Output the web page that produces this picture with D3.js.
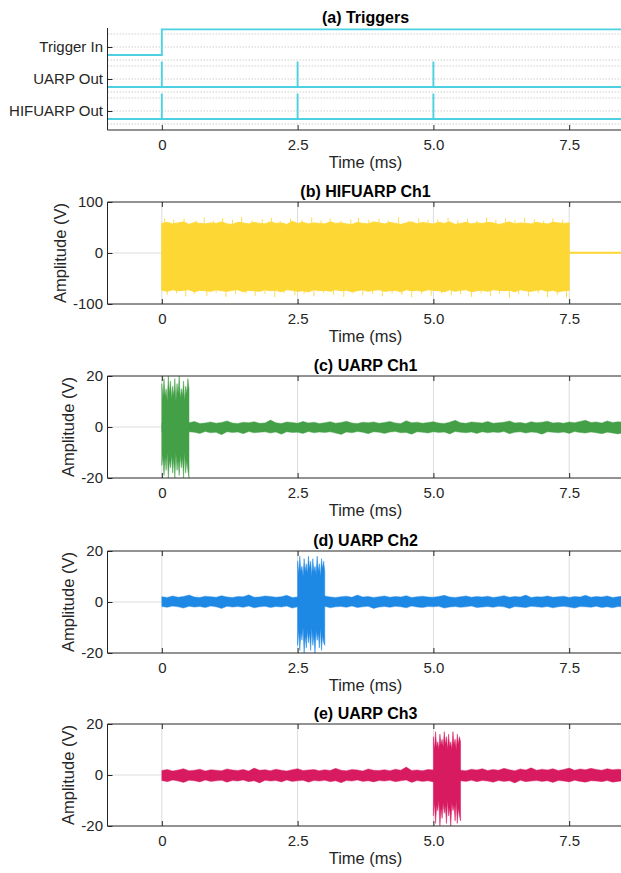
<!DOCTYPE html>
<html lang="en">
<head>
<meta charset="UTF-8">
<title>Triggers and channel outputs</title>
<script src="https://cdn.jsdelivr.net/npm/d3@7"></script>
<style>
  body { margin: 0; background: #fff; }
  svg { display: block; font-family: "Liberation Sans", Arial, Helvetica, sans-serif; }
</style>
</head>
<body>
<div id="chart"></div>
<script>
// ---- data ----
const xTicks = [0, 2.5, 5.0, 7.5];
const xTickLabels = ["0", "2.5", "5.0", "7.5"];
const timeDomain = [-1, 8.5];

// (a) triggers, logic levels 0/1
const triggerNames = ["HIFUARP Out", "UARP Out", "Trigger In"];
const triggerInSteps = [[-1, 0], [0, 0], [0, 1], [8.5, 1]];
const uarpOutPulses = [0, 2.5, 5.0];
const hifuarpOutPulses = [0, 2.5, 5.0];

// (b) HIFUARP Ch1: envelope every 0.1 ms from 0 to 7.5 ms, plus single peaks
const hifuCoreUp = [
  58,60,57,59,61,56,60,58,57,59, 58,61,57,56,60,59,57,60,58,57,
  61,58,59,56,62,58,60,57,59,58, 57,61,58,59,57,56,60,58,57,61,
  59,57,60,58,56,59,61,57,60,58, 57,60,58,61,56,58,60,57,59,58,
  60,59,56,58,61,57,59,58,57,60, 58,57,60,59,58,59];
const hifuCoreLo = [
  -73,-75,-72,-74,-73,-72,-76,-73,-74,-75, -72,-74,-75,-73,-72,-76,-73,-74,-75,-72,
  -74,-73,-76,-72,-73,-75,-74,-76,-72,-74, -73,-75,-72,-74,-73,-76,-74,-72,-75,-73,
  -72,-75,-74,-73,-76,-72,-74,-73,-75,-72, -73,-74,-76,-72,-75,-73,-72,-76,-74,-73,
  -75,-72,-73,-74,-73,-76,-72,-74,-75,-73, -72,-75,-73,-76,-74,-73];
const hifuPeaksUp = [
  [0.05,68],[0.22,65],[0.41,67],[0.63,64],[0.78,70],[0.95,63],[1.12,68],[1.3,65],[1.47,71],
  [1.66,64],[1.85,66],[2.02,69],[2.18,63],[2.37,67],[2.58,65],[2.76,70],[2.93,64],[3.1,68],
  [3.3,63],[3.48,66],[3.62,69],[3.81,65],[4.0,67],[4.17,64],[4.36,70],[4.55,63],[4.73,68],
  [4.9,65],[5.08,66],[5.27,69],[5.45,64],[5.63,67],[5.8,63],[5.98,70],[6.15,65],[6.33,68],
  [6.5,64],[6.68,69],[6.86,66],[7.03,63],[7.2,68],[7.38,65]];
const hifuPeaksDown = [
  [0.1,-82],[0.27,-79],[0.44,-85],[0.6,-80],[0.83,-84],[1.0,-78],[1.18,-86],[1.36,-81],
  [1.55,-79],[1.72,-84],[1.9,-80],[2.08,-87],[2.25,-79],[2.45,-83],[2.62,-80],[2.8,-85],
  [2.98,-78],[3.16,-82],[3.35,-86],[3.52,-79],[3.7,-83],[3.88,-80],[4.06,-85],[4.24,-79],
  [4.42,-82],[4.6,-87],[4.78,-80],[4.96,-84],[5.15,-79],[5.33,-83],[5.5,-81],[5.7,-86],
  [5.88,-79],[6.05,-84],[6.22,-80],[6.4,-88],[6.57,-81],[6.75,-85],[6.93,-79],[7.1,-87],
  [7.28,-82],[7.45,-88]];
const hifuTailT = [7.5, 8.5];
const hifuTailV = [0.6, 0.6];

// (c)-(e) UARP channels: noise envelope every 0.1 ms from 0 to 8.5 ms
const ch1NoiseUp = [
  1.6,1.9,1.4,1.8,1.5,1.7,2.2,1.4,1.6,2.0, 1.5,1.8,2.4,1.6,1.4,1.9,1.7,2.1,1.5,1.6,
  2.7,1.7,1.4,2.0,1.8,1.5,2.2,1.6,1.9,1.4, 1.7,2.1,1.5,1.8,2.3,1.6,1.4,1.9,1.7,2.0,
  1.5,1.8,2.2,1.6,1.4,2.5,1.7,1.9,1.5,1.8, 2.1,1.6,1.4,1.9,2.6,1.7,1.5,2.0,1.8,1.6,
  2.2,1.5,1.7,1.9,2.4,1.6,1.8,1.4,2.1,1.7, 1.9,2.3,1.6,1.8,1.5,2.0,1.7,2.2,2.6,1.8,
  2.0,1.6,2.4,1.8,2.1,1.9];
const ch1NoiseLo = [
  -2.0,-2.4,-1.8,-2.2,-2.7,-1.9,-2.1,-2.5,-1.8,-2.3, -2.1,-3.0,-1.9,-2.2,-2.0,-2.6,-1.8,-2.3,-2.1,-1.9,
  -2.4,-2.0,-2.8,-1.9,-2.2,-2.1,-2.5,-1.8,-2.3,-2.0, -2.2,-1.9,-2.4,-2.9,-2.0,-2.3,-1.8,-2.1,-2.6,-1.9,
  -2.1,-2.5,-2.0,-1.8,-2.3,-2.2,-2.8,-1.9,-2.1,-2.4, -1.9,-2.2,-2.0,-2.7,-1.8,-2.1,-2.3,-2.0,-2.5,-1.9,
  -2.3,-2.0,-2.2,-1.8,-2.6,-2.1,-1.9,-2.4,-2.0,-2.2, -2.8,-1.9,-2.1,-2.3,-2.0,-2.5,-1.8,-2.2,-2.4,-2.0,
  -2.3,-2.6,-2.1,-2.4,-2.7,-2.2];
const ch2NoiseUp = [
  2.1,1.8,2.4,1.9,2.2,2.7,2.0,1.8,2.3,2.1, 1.9,2.5,2.0,1.8,2.2,2.1,2.8,1.9,2.0,2.4,
  2.2,1.9,2.1,2.6,1.8,2.0,2.3,2.1,1.9,2.2, 2.4,2.0,1.8,2.1,2.3,1.9,2.7,2.0,2.2,1.8,
  2.1,2.4,1.9,2.2,2.0,2.5,1.8,2.1,2.3,2.0, 1.9,2.2,2.6,2.0,1.8,2.1,2.4,1.9,2.2,2.0,
  2.3,1.8,2.1,2.5,1.9,2.2,2.0,2.7,1.8,2.1, 2.0,2.4,1.9,2.1,2.3,1.8,2.2,2.0,2.6,1.9,
  2.2,2.0,2.4,1.8,2.1,2.3];
const ch2NoiseLo = [
  -1.8,-2.1,-1.6,-1.9,-2.4,-1.7,-2.0,-1.8,-2.2,-1.6, -1.9,-2.5,-1.7,-2.0,-1.8,-2.1,-1.6,-2.3,-1.9,-1.7,
  -2.2,-1.8,-2.0,-1.6,-2.4,-1.9,-1.7,-2.1,-1.8,-2.0, -1.7,-2.3,-1.9,-1.8,-2.1,-1.6,-2.2,-1.9,-1.7,-2.5,
  -2.0,-1.8,-2.1,-1.7,-1.9,-2.3,-1.6,-2.0,-2.2,-1.8, -1.9,-1.7,-2.4,-2.0,-1.8,-2.1,-1.9,-1.6,-2.2,-2.0,
  -1.8,-2.1,-1.7,-1.9,-2.5,-1.8,-2.0,-2.2,-1.7,-1.9, -2.1,-1.8,-2.3,-1.9,-1.7,-2.0,-2.4,-1.8,-1.9,-2.1,
  -1.7,-2.2,-1.9,-2.3,-1.8,-2.0];
const ch3NoiseUp = [
  1.8,2.2,1.6,2.0,2.5,1.7,1.9,2.3,1.6,2.1, 1.9,1.7,2.4,2.0,1.8,2.2,1.6,2.7,1.9,2.1,
  1.7,2.3,1.9,1.6,2.1,2.5,1.8,2.0,2.2,1.7, 2.1,1.8,2.6,1.9,1.7,2.2,2.0,1.6,2.4,1.9,
  1.8,2.1,1.7,2.3,1.9,3.1,1.8,2.0,1.7,2.2, 2.0,2.4,1.8,2.1,2.7,1.9,1.7,2.3,2.0,2.5,
  1.8,2.2,1.9,2.6,2.1,1.7,2.4,2.0,2.8,1.9, 2.3,2.0,2.5,1.8,2.2,2.7,1.9,2.4,2.1,2.6,
  2.2,1.9,2.5,2.1,2.3,2.0];
const ch3NoiseLo = [
  -2.2,-2.6,-2.0,-2.4,-2.9,-2.1,-2.3,-2.7,-2.0,-2.5, -2.3,-2.1,-2.8,-2.2,-2.4,-2.0,-2.6,-2.3,-3.1,-2.1,
  -2.4,-2.2,-2.7,-2.0,-2.5,-2.3,-2.1,-2.8,-2.2,-2.4, -2.1,-2.6,-2.3,-3.0,-2.2,-2.4,-2.0,-2.5,-2.3,-2.7,
  -2.2,-2.4,-2.1,-2.6,-2.3,-2.0,-2.9,-2.2,-2.5,-2.3, -2.7,-2.1,-2.4,-2.2,-3.0,-2.3,-2.5,-2.1,-2.6,-2.2,
  -2.4,-2.8,-2.2,-2.5,-2.3,-3.1,-2.1,-2.6,-2.4,-2.2, -2.5,-2.3,-2.9,-2.2,-2.4,-2.7,-2.1,-2.5,-2.8,-2.3,
  -2.4,-2.6,-2.2,-2.8,-2.5,-2.3];

// 0.5 ms bursts, envelope every 0.02 ms
const burstStarts = [0, 2.5, 5.0];
const ch1BurstUp = [17,11,19,12,15,10,20,13,18,11,16,12,19,10,17,13,20,11,15,12,18,10,16,13,19,15];
const ch1BurstLo = [-15,-11,-19,-12,-17,-10,-20,-13,-16,-11,-18,-12,-20,-10,-17,-13,-19,-11,-16,-12,-20,-10,-18,-13,-17,-20];
const ch2BurstUp = [16,11,18,12,14,10,17,12,15,11,18,13,16,10,17,12,14,11,18,12,15,10,17,13,16,12];
const ch2BurstLo = [-17,-11,-19,-12,-15,-10,-20,-13,-18,-11,-16,-12,-19,-10,-17,-13,-20,-11,-15,-12,-18,-10,-19,-13,-16,-17];
const ch3BurstUp = [15,10,17,11,13,10,16,12,14,11,17,12,15,10,16,11,13,10,17,12,14,10,16,12,15,13];
const ch3BurstLo = [-16,-11,-19,-12,-14,-10,-20,-13,-17,-11,-15,-12,-19,-10,-16,-13,-20,-11,-14,-12,-18,-10,-19,-13,-16,-18];

const panelTitles = ["(a) Triggers", "(b) HIFUARP Ch1", "(c) UARP Ch1", "(d) UARP Ch2", "(e) UARP Ch3"];
const hifuYTicks = [-100, 0, 100];
const uarpYTicks = [-20, 0, 20];

// ---- layout ----
const width = 621, height = 873;
const plotLeft = 107.5, plotRight = 623.5, plotH = 102;
const tops = [28, 202, 376, 551, 724];
const axisColor = "#262626";
const trigColor = "#4DD0E1";
const colors = { hifu: "#FDD835", ch1: "#43A047", ch2: "#1E88E5", ch3: "#D81B60" };

const svg = d3.select("#chart").append("svg")
  .attr("width", width)
  .attr("height", height);

const x = d3.scaleLinear().domain(timeDomain).range([plotLeft, plotRight]);

function panelTitle(i) {
  svg.append("text")
    .attr("x", (plotLeft + plotRight) / 2)
    .attr("y", tops[i] - 5)
    .attr("text-anchor", "middle")
    .attr("font-size", "16px")
    .attr("font-weight", "bold")
    .attr("fill", "#000")
    .text(panelTitles[i]);
}

function xAxis(i, withTop) {
  const bottom = tops[i] + plotH;
  const g = svg.append("g")
    .attr("transform", `translate(0,${bottom})`)
    .call(d3.axisBottom(x).tickValues(xTicks)
      .tickFormat((d, k) => xTickLabels[k])
      .tickSizeInner(-5).tickSizeOuter(0).tickPadding(9.5));
  g.select(".domain").remove();
  g.selectAll(".tick line").attr("stroke", axisColor);
  g.selectAll(".tick text").attr("fill", axisColor).attr("font-size", "15px");
  if (withTop) {
    const gt = svg.append("g")
      .attr("transform", `translate(0,${tops[i]})`)
      .call(d3.axisTop(x).tickValues(xTicks).tickFormat("")
        .tickSizeInner(-5).tickSizeOuter(0));
    gt.select(".domain").remove();
    gt.selectAll(".tick line").attr("stroke", axisColor);
    svg.append("line")
      .attr("x1", plotLeft).attr("x2", width)
      .attr("y1", tops[i]).attr("y2", tops[i])
      .attr("stroke", axisColor);
  }
  svg.append("line")
    .attr("x1", plotLeft).attr("x2", width)
    .attr("y1", bottom).attr("y2", bottom)
    .attr("stroke", axisColor);
  svg.append("line")
    .attr("x1", plotLeft).attr("x2", plotLeft)
    .attr("y1", tops[i]).attr("y2", bottom)
    .attr("stroke", axisColor);
  svg.append("text")
    .attr("x", (plotLeft + plotRight) / 2)
    .attr("y", bottom + 38)
    .attr("text-anchor", "middle")
    .attr("font-size", "16.5px")
    .attr("fill", axisColor)
    .text("Time (ms)");
}

function yAxis(i, y, ticks, fmt) {
  const g = svg.append("g")
    .attr("transform", `translate(${plotLeft},0)`)
    .call(d3.axisLeft(y).tickValues(ticks).tickFormat(fmt)
      .tickSizeInner(-5).tickSizeOuter(0).tickPadding(4.5));
  g.select(".domain").remove();
  g.selectAll(".tick line").attr("stroke", axisColor);
  g.selectAll(".tick text").attr("fill", axisColor).attr("font-size", "15px");
  return g;
}

// ---- (a) Triggers ----
{
  const top = tops[0], bottom = top + plotH;
  const yA = d3.scaleLinear().domain([-0.344, 2.844]).range([bottom, top]);
  const level = 0.8;

  // dotted grid: at each channel tick and either side of it
  triggerNames.forEach((n, k) => {
    [-0.406, 0, 0.406].forEach(off => {
      svg.append("line")
        .attr("x1", plotLeft).attr("x2", width)
        .attr("y1", yA(k + 0.25 + off)).attr("y2", yA(k + 0.25 + off))
        .attr("stroke", "#cfcfcf")
        .attr("stroke-dasharray", "1.5,1.5");
    });
  });

  const line = d3.line().x(d => x(d[0])).y(d => d[1]);

  function pulseTrain(pulses, k) {
    const pts = [[timeDomain[0], yA(k)]];
    pulses.forEach(t => {
      pts.push([t, yA(k)], [t, yA(k + level)], [t, yA(k)]);
    });
    pts.push([timeDomain[1], yA(k)]);
    return pts;
  }

  const trigPaths = [
    pulseTrain(hifuarpOutPulses, 0),
    pulseTrain(uarpOutPulses, 1),
    triggerInSteps.map(d => [d[0], yA(2 + d[1] * level)])
  ];
  svg.append("g").selectAll("path")
    .data(trigPaths)
    .join("path")
    .attr("d", line)
    .attr("fill", "none")
    .attr("stroke", trigColor)
    .attr("stroke-width", 1.9);

  yAxis(0, yA, [0.25, 1.25, 2.25], (d, k) => triggerNames[k]);
  xAxis(0, false);
  panelTitle(0);
}

// ---- (b)-(e) signal panels ----
function signalPanel(i, yDomain) {
  const top = tops[i], bottom = top + plotH;
  const y = d3.scaleLinear().domain(yDomain).range([bottom, top]);

  svg.append("clipPath").attr("id", "clip" + i)
    .append("rect")
    .attr("x", plotLeft).attr("y", top)
    .attr("width", plotRight - plotLeft).attr("height", plotH);

  const grid = svg.append("g").attr("stroke", "#dcdcdc").attr("stroke-width", 1);
  xTicks.forEach(t => {
    grid.append("line").attr("x1", x(t)).attr("x2", x(t)).attr("y1", top).attr("y2", bottom);
  });
  grid.append("line").attr("x1", plotLeft).attr("x2", width).attr("y1", y(0)).attr("y2", y(0));

  const plot = svg.append("g").attr("clip-path", `url(#clip${i})`);
  return { y, plot };
}

function band(plot, y, t0, step, up, lo, color, strokeW) {
  const pts = up.map((v, k) => ({ t: t0 + k * step, u: v, l: lo[k] }));
  plot.append("path")
    .datum(pts)
    .attr("d", d3.area().x(d => x(d.t)).y0(d => y(d.l)).y1(d => y(d.u)))
    .attr("fill", color)
    .attr("stroke", color)
    .attr("stroke-width", strokeW)
    .attr("stroke-linejoin", "round");
}

function finishPanel(i, y, yTicks) {
  yAxis(i, y, yTicks, d => String(d));
  xAxis(i, true);
  panelTitle(i);
  // y label, placed left of the tick labels
  const labelX = i === 1 ? 66 : 74;
  svg.append("text")
    .attr("transform", `translate(${labelX},${tops[i] + plotH / 2}) rotate(-90)`)
    .attr("text-anchor", "middle")
    .attr("font-size", "16.5px")
    .attr("fill", axisColor)
    .text("Amplitude (V)");
}

// (b)
{
  const { y, plot } = signalPanel(1, [-100, 100]);
  const peakLines = plot.append("g")
    .attr("stroke", colors.hifu).attr("stroke-width", 1).attr("opacity", 0.85);
  hifuPeaksUp.concat(hifuPeaksDown).forEach(p => {
    peakLines.append("line")
      .attr("x1", x(p[0])).attr("x2", x(p[0]))
      .attr("y1", y(0)).attr("y2", y(p[1]));
  });
  band(plot, y, 0, 0.1, hifuCoreUp, hifuCoreLo, colors.hifu, 1);
  plot.append("path")
    .datum(hifuTailT.map((t, k) => [t, hifuTailV[k]]))
    .attr("d", d3.line().x(d => x(d[0])).y(d => y(d[1])))
    .attr("fill", "none")
    .attr("stroke", colors.hifu)
    .attr("stroke-width", 2);
  finishPanel(1, y, hifuYTicks);
}

// (c)-(e)
const uarpChannels = [
  { noiseUp: ch1NoiseUp, noiseLo: ch1NoiseLo, burstUp: ch1BurstUp, burstLo: ch1BurstLo, color: colors.ch1 },
  { noiseUp: ch2NoiseUp, noiseLo: ch2NoiseLo, burstUp: ch2BurstUp, burstLo: ch2BurstLo, color: colors.ch2 },
  { noiseUp: ch3NoiseUp, noiseLo: ch3NoiseLo, burstUp: ch3BurstUp, burstLo: ch3BurstLo, color: colors.ch3 }
];
uarpChannels.forEach((c, k) => {
  const i = k + 2;
  const { y, plot } = signalPanel(i, [-20, 20]);
  band(plot, y, 0, 0.1, c.noiseUp, c.noiseLo, c.color, 0.4);
  band(plot, y, burstStarts[k], 0.02, c.burstUp, c.burstLo, c.color, 0.5);
  finishPanel(i, y, uarpYTicks);
});
</script>
</body>
</html>
